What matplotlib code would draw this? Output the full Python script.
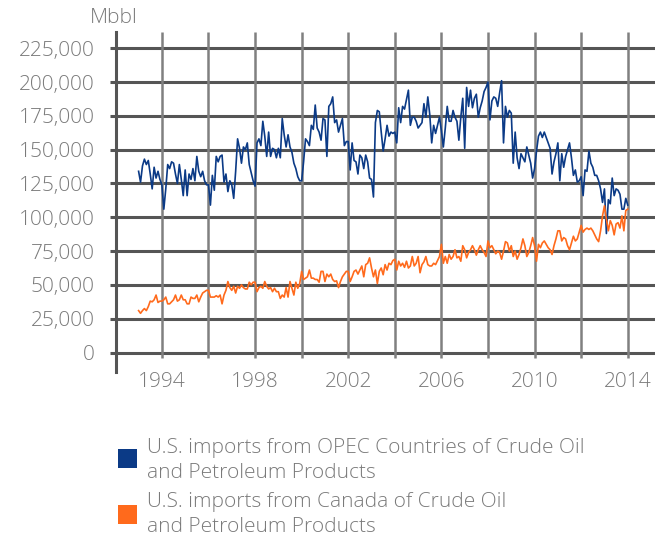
import matplotlib
matplotlib.use('Agg')
import matplotlib.pyplot as plt
from matplotlib.patches import Rectangle
import numpy as np

plt.rcParams['font.family'] = ['Open Sans', 'DejaVu Sans']

# Monthly values, thousands of barrels (Jan 1993 .. Jan 2014)
opec_k = [
    134, 126, 138, 143, 139, 142, 132, 121, 137, 129, 134, 128,   # 1993
    124, 106, 121, 139, 136, 141, 140, 132, 125, 139, 128, 116,   # 1994
    135, 116, 132, 128, 136, 127, 145, 134, 130, 134, 127, 124,   # 1995
    124, 109, 131, 120, 145, 141, 145, 146, 126, 132, 119, 127,   # 1996
    124, 114, 134, 158, 151, 140, 152, 150, 155, 139, 133, 127,   # 1997
    123, 155, 158, 153, 171, 160, 145, 163, 145, 151, 150, 144,   # 1998
    151, 144, 173, 161, 152, 161, 152, 148, 140, 136, 130, 127,   # 1999
    127, 141, 158, 156, 153, 168, 165, 183, 166, 163, 157, 173,   # 2000
    172, 145, 182, 184, 189, 170, 172, 163, 168, 173, 153, 156,   # 2001
    156, 135, 155, 142, 141, 132, 146, 144, 136, 146, 141, 129,   # 2002
    128, 115, 170, 179, 178, 163, 149, 158, 168, 160, 163, 162,   # 2003
    163, 155, 181, 170, 182, 180, 187, 194, 168, 174, 174, 171,   # 2004
    166, 168, 170, 184, 174, 189, 176, 155, 168, 162, 168, 174,   # 2005
    164, 152, 166, 182, 171, 171, 179, 174, 171, 157, 174, 188,   # 2006
    151, 196, 182, 194, 181, 188, 191, 174, 181, 186, 193, 196,   # 2007
    200, 172, 186, 189, 188, 182, 192, 201, 155, 182, 174, 179,   # 2008
    177, 140, 163, 144, 136, 147, 144, 141, 152, 146, 140, 129,   # 2009
    136, 149, 160, 163, 159, 163, 159, 155, 151, 132, 141, 147,   # 2010
    155, 127, 147, 137, 145, 150, 155, 144, 131, 135, 126, 127,   # 2011
    130, 116, 135, 134, 149, 140, 137, 131, 131, 127, 121, 111,   # 2012
    121, 88, 113, 110, 129, 116, 121, 120, 117, 106, 106, 114,    # 2013
    109,                                                          # 2014
]

canada_k = [
    31, 29, 31, 32.5, 31, 34, 38, 37.5, 39, 42.5, 37, 38,         # 1993
    38, 39, 41, 36, 36, 37.5, 39, 42.5, 38, 39, 42.5, 39,         # 1994
    39, 36, 36, 41, 40, 40, 42.5, 37.5, 41, 44, 45, 46,           # 1995
    46, 41, 41, 41, 42, 41, 42.5, 36, 42.5, 46, 52.5, 48,         # 1996
    46, 49, 44, 49, 47.5, 50, 48, 47, 47, 52, 50, 52,             # 1997
    52, 45, 48, 49, 47.5, 52.5, 49, 47, 48, 45, 47.5, 45,         # 1998
    45, 40, 42.5, 41, 48, 41, 52.5, 47.5, 42.5, 52, 47.5, 51,     # 1999
    60, 54, 55, 56, 61, 55, 55, 54, 54, 52, 60, 60,               # 2000
    52.5, 58, 56, 58, 54, 52.5, 53, 48, 52.5, 56, 58, 60,         # 2001
    60, 52.5, 56, 60, 61, 58, 61, 64, 56, 65, 66, 70,             # 2002
    62.5, 56, 61, 51, 60, 62.5, 57.5, 65, 61, 66, 65, 68,         # 2003
    69, 61, 67.5, 64, 66, 63, 67.5, 62.5, 64, 71, 64, 66,         # 2004
    71, 59, 65, 67, 71, 65, 64, 64, 66, 65, 68, 71,               # 2005
    80, 66, 71, 66, 72.5, 69, 71, 76, 70, 71, 67.5, 79,           # 2006
    76, 70, 74, 76, 79, 76, 72, 76, 79, 76, 74, 71,               # 2007
    82.5, 77.5, 79, 76, 73, 75, 74, 69, 75, 82, 81, 75,           # 2008
    79, 71, 75, 69, 72.5, 77.5, 84, 79, 71, 74, 79, 85,           # 2009
    79, 67.5, 80, 77.5, 81, 82.5, 80, 77.5, 76, 72.5, 79, 84,     # 2010
    90, 90, 82.5, 85, 84, 79, 76, 81, 86, 82.5, 84, 89,           # 2011
    94, 89, 91, 92, 91, 92, 90, 87, 84, 82, 90, 101,              # 2012
    108.5, 98.5, 90, 97.5, 94, 87, 95, 96, 92, 101, 90, 105,      # 2013
    106,                                                          # 2014
]

start_year = 1993
y_ticks = [0, 25000, 50000, 75000, 100000, 125000, 150000, 175000, 200000, 225000]
x_label_years = [1994, 1998, 2002, 2006, 2010, 2014]
x_grid_years = [1994, 1996, 1998, 2000, 2002, 2004, 2006, 2008, 2010, 2012, 2014]
legend_labels = [
    ["U.S. imports from OPEC Countries of Crude Oil", "and Petroleum Products"],
    ["U.S. imports from Canada of Crude Oil", "and Petroleum Products"],
]
unit_label = "Mbbl"

BLUE = '#0B3A86'
ORANGE = '#FF6A1C'
TEXT = '#7a7a7a'
GRID = '#555555'
VGRID = '#808080'
FS = 15
WEIGHT = 'light'

W, H = 665, 539
fig = plt.figure(figsize=(W / 100, H / 100), dpi=100)
ax = fig.add_axes([116 / W, 1 - 372 / H, (655 - 116) / W, (372 - 32) / H])

opec = np.array(opec_k) * 1000
canada = np.array(canada_k) * 1000
dates = start_year + np.arange(len(opec)) / 12.0

XMIN, XMAX = 1992.03, 2015.17
YMIN, YMAX = -14400, 237000
ax.set_xlim(XMIN, XMAX)
ax.set_ylim(YMIN, YMAX)
ax.set_axisbelow(True)

# grid
ax.hlines(y_ticks, XMIN, XMAX, colors=GRID, linewidth=2.2, zorder=1)
ax.vlines(x_grid_years, -3700, YMAX, colors=VGRID, linewidth=1.8, zorder=1)

ax.plot(dates, opec, color=BLUE, lw=1.2, zorder=3)
ax.plot(dates, canada, color=ORANGE, lw=1.2, zorder=4)

for s in ['top', 'right', 'bottom']:
    ax.spines[s].set_visible(False)
ax.spines['left'].set_color(GRID)
ax.spines['left'].set_linewidth(2.2)

ax.set_yticks(y_ticks)
ax.set_yticklabels([f"{v:,}" for v in y_ticks])
ax.tick_params(axis='y', length=4, width=2.2, color=GRID, pad=11.5,
               labelsize=FS, labelcolor=TEXT)
ax.set_xticks(x_label_years)
ax.set_xticklabels([str(y) for y in x_label_years])
ax.tick_params(axis='x', length=0, pad=0, labelsize=FS, labelcolor=TEXT)
for lab in ax.get_xticklabels() + ax.get_yticklabels():
    lab.set_fontweight(WEIGHT)

fig.text(114 / W, 1 - 23 / H, unit_label, ha='center', va='baseline',
         fontsize=FS, color=TEXT, fontweight=WEIGHT)

# legend
colors = [BLUE, ORANGE]
sq_tops = [449, 505]
baselines = [(453, 478), (507, 532)]
for c, top, (b1, b2), lines in zip(colors, sq_tops, baselines, legend_labels):
    fig.patches.append(Rectangle((118 / W, 1 - (top + 19) / H), 19 / W, 19 / H,
                                 transform=fig.transFigure, facecolor=c,
                                 edgecolor='none'))
    fig.text(147 / W, 1 - b1 / H, lines[0], ha='left', va='baseline',
             fontsize=FS, color=TEXT, fontweight=WEIGHT)
    fig.text(147 / W, 1 - b2 / H, lines[1], ha='left', va='baseline',
             fontsize=FS, color=TEXT, fontweight=WEIGHT)

fig.savefig('out.png', dpi=100)
